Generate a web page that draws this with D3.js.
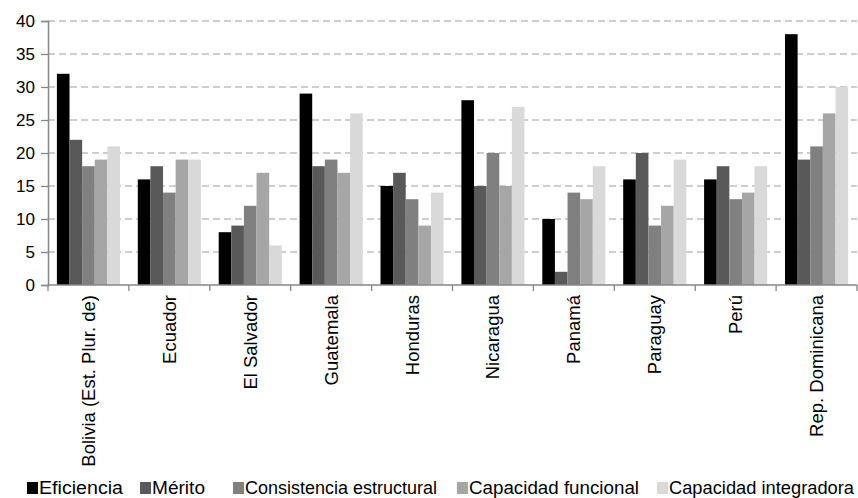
<!DOCTYPE html>
<html>
<head>
<meta charset="utf-8">
<script src="https://cdn.jsdelivr.net/npm/d3@7"></script>
<style>
  html, body { margin: 0; padding: 0; background: #fff; }
  svg { display: block; font-family: "Liberation Sans", Arial, sans-serif; }
</style>
</head>
<body>
<svg id="chart" width="858" height="498"></svg>
<script>
const categories = ["Bolivia (Est. Plur. de)", "Ecuador", "El Salvador", "Guatemala", "Honduras", "Nicaragua", "Panamá", "Paraguay", "Perú", "Rep. Dominicana"];
const seriesNames = ["Eficiencia", "Mérito", "Consistencia estructural", "Capacidad funcional", "Capacidad integradora"];
const eficiencia = [32, 16, 8, 29, 15, 28, 10, 16, 16, 38];
const merito = [22, 18, 9, 18, 17, 15, 2, 20, 18, 19];
const consistencia = [18, 14, 12, 19, 13, 20, 14, 9, 13, 21];
const funcional = [19, 19, 17, 17, 9, 15, 13, 12, 14, 26];
const integradora = [21, 19, 6, 26, 14, 27, 18, 19, 18, 30];
const yTicks = [0, 5, 10, 15, 20, 25, 30, 35, 40];

const seriesValues = [eficiencia, merito, consistencia, funcional, integradora];
const colors = ["#000000", "#595959", "#808080", "#a6a6a6", "#d9d9d9"];

const svg = d3.select("#chart");
const mLeft = 48, mRight = 857, mTop = 21, mBottom = 285;

const x0 = d3.scaleBand().domain(categories).range([mLeft, mRight]).paddingInner(0.22).paddingOuter(0.11);
const x1 = d3.scaleBand().domain(seriesNames).range([0, x0.bandwidth()]);
const y = d3.scaleLinear().domain([0, 40]).range([mBottom, mTop]);

// gridlines
svg.append("g").selectAll("line").data(yTicks.filter(t => t > 0)).join("line")
  .attr("x1", mLeft).attr("x2", mRight)
  .attr("y1", d => y(d)).attr("y2", d => y(d))
  .attr("stroke", "#bfbfbf").attr("stroke-width", 1.3).attr("stroke-dasharray", "7,4");

// bars
const groups = svg.append("g").selectAll("g").data(categories).join("g")
  .attr("transform", d => `translate(${x0(d)},0)`);
groups.selectAll("rect").data((c, i) => seriesNames.map((s, j) => ({ s, j, v: seriesValues[j][i] }))).join("rect")
  .attr("x", d => x1(d.s))
  .attr("width", x1.bandwidth())
  .attr("y", d => y(d.v))
  .attr("height", d => y(0) - y(d.v))
  .attr("fill", d => colors[d.j]);

// y axis
const yAxis = svg.append("g").attr("transform", `translate(${mLeft},0)`)
  .call(d3.axisLeft(y).tickValues(yTicks).tickSize(7).tickPadding(6));
yAxis.select(".domain").attr("stroke", "#868686").attr("stroke-width", 1.5);
yAxis.selectAll(".tick line").attr("stroke", "#868686").attr("stroke-width", 1.3);
yAxis.selectAll(".tick text").attr("font-size", 17).attr("fill", "#000")
  .attr("font-family", "Liberation Sans, Arial, sans-serif");

// x axis line
svg.append("line").attr("x1", mLeft).attr("x2", mRight).attr("y1", mBottom).attr("y2", mBottom)
  .attr("stroke", "#868686").attr("stroke-width", 1.5);
// x boundary ticks
const step = x0.step();
const boundaries = d3.range(categories.length + 1).map(i => mLeft + i * step);
svg.append("g").selectAll("line").data(boundaries).join("line")
  .attr("x1", d => d).attr("x2", d => d).attr("y1", mBottom).attr("y2", mBottom + 6)
  .attr("stroke", "#868686").attr("stroke-width", 1.3);

// x labels
svg.append("g").selectAll("text").data(categories).join("text")
  .attr("transform", d => `translate(${x0(d) + x0.bandwidth() / 2},${mBottom + 10}) rotate(-90)`)
  .attr("text-anchor", "end")
  .attr("dy", "0.35em")
  .attr("font-size", 18.5)
  .attr("fill", "#000")
  .text(d => d);

// legend
const legendX = [27, 140, 233, 457, 657];
const legendW = [84, 53, 192, 170, 185];
const legend = svg.append("g").selectAll("g").data(seriesNames).join("g")
  .attr("transform", (d, i) => `translate(${legendX[i]},482)`);
legend.append("rect").attr("width", 11).attr("height", 12).attr("fill", (d, i) => colors[i]);
legend.append("text").attr("x", 12).attr("y", 12).attr("font-size", 17.5).attr("fill", "#000")
  .attr("textLength", (d, i) => legendW[i]).attr("lengthAdjust", "spacingAndGlyphs")
  .text(d => d);
</script>
</body>
</html>
